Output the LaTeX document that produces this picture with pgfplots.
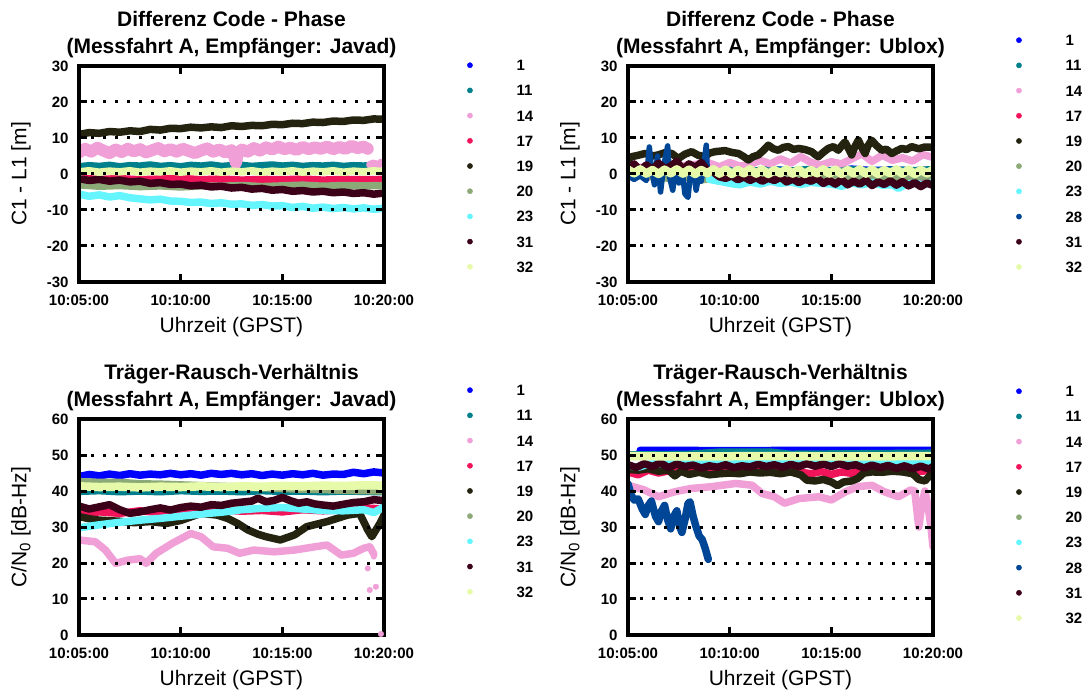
\documentclass[border=0pt]{standalone}
\usepackage{fontspec}
\setmainfont{Liberation Sans}
\usepackage{pgfplots}
\pgfplotsset{compat=1.18}

% satellite colours (MATLAB-like)
\definecolor{c1}{RGB}{0,0,255}
\definecolor{c11}{RGB}{0,128,140}
\definecolor{c14}{RGB}{240,160,215}
\definecolor{c17}{RGB}{240,20,90}
\definecolor{c19}{RGB}{35,35,15}
\definecolor{c20}{RGB}{140,170,120}
\definecolor{c23}{RGB}{100,245,255}
\definecolor{c28}{RGB}{0,70,150}
\definecolor{c31}{RGB}{60,0,25}
\definecolor{c32}{RGB}{230,250,170}

\pgfplotsset{
  panel/.style={
    scale only axis, width=305pt, height=216pt,
    xmin=5, xmax=20, xtick={5,10,15,20},
    xticklabels={10:05:00,10:10:00,10:15:00,10:20:00},
    tick align=inside, major tick length=8pt,
    every tick/.style={black, line width=3pt},
    axis line style={line width=3.5pt},
    axis on top,
    ymajorgrids,
    grid style={black, line width=3pt, dash pattern=on 3pt off 9pt},
    tick label style={font=\fontsize{15}{15}\selectfont\bfseries},
    xticklabel style={yshift=-9pt},
    yticklabel style={xshift=-7pt},
    label style={font=\fontsize{21}{21}\selectfont},
    xlabel style={at={([yshift=-45pt]axis description cs:0.5,0)}, anchor=center},
    ylabel style={at={([xshift=-58pt]axis description cs:0,0.5)}, anchor=center},
    title style={font=\fontsize{21}{27}\selectfont\bfseries, align=center,
      at={(0.5,1)}, anchor=south, yshift=2pt, inner sep=0pt},
    legend image code/.code={\fill[##1] (2.6pt,0pt) circle (2.6pt); \path (0pt,0pt) (49pt,0pt);},
    legend cell align=left,
    legend style={draw=none, fill=none, inner sep=0pt, row sep=14.2pt, column sep=0pt,
      font=\fontsize{15}{15}\selectfont\bfseries, anchor=north west,
      nodes={inner sep=0pt, text height=11pt, text depth=0pt}},
  },
  band/.style={no markers, line width=7.5pt, line join=round, line cap=round, forget plot},
}

\begin{document}
\begin{tikzpicture}
\useasboundingbox (0,0) rectangle (1087pt,693pt);

% ---------------- top left: code - phase, Javad
\begin{axis}[panel, at={(79pt,411pt)}, anchor=south west,
  ymin=-30, ymax=30, ytick={-30,-20,...,30},
  yticklabels={-30,-20,-10,0,10,20,30},
  title={Differenz Code - Phase\\(Messfahrt A, Empfänger: Javad)},
  xlabel={Uhrzeit (GPST)}, ylabel={C1 - L1 [m]},
  legend style={at={(1.272,1.03)}}]
\addlegendimage{c1}\addlegendimage{c11}\addlegendimage{c14}\addlegendimage{c17}
\addlegendimage{c19}\addlegendimage{c20}\addlegendimage{c23}\addlegendimage{c31}
\addlegendimage{c32}
\addplot[band, c11] coordinates {(5,2.0)(5.5,2.3)(6,2.1)(6.5,2.4)(7,2.0)(7.5,2.3)(8,2.2)(8.5,2.5)(9,2.1)(9.5,2.3)(10,2.0)(10.5,2.4)(11,2.2)(11.5,2.5)(12,2.1)(12.5,2.3)(13,2.4)(13.5,2.1)(14,2.3)(14.5,2.5)(15,2.2)(15.5,2.4)(16,2.1)(16.5,2.3)(17,2.2)(17.5,2.4)(18,2.1)(18.5,2.3)(19,2.2)(19.2,2.3)};
\addplot[band, c14, line width=12pt] coordinates {(5,6.0)(5.3,7.0)(5.6,6.2)(5.9,7.3)(6.2,6.5)(6.5,5.8)(6.8,6.8)(7.1,6.1)(7.4,7.0)(7.7,6.3)(8,6.9)(8.3,6.0)(8.6,6.6)(8.9,7.2)(9.2,6.3)(9.5,6.9)(9.8,6.2)(10.1,7.0)(10.4,6.4)(10.7,5.8)(11,6.5)(11.3,7.1)(11.6,6.2)(11.9,6.8)(12.2,6.0)(12.5,6.6)(12.65,4.5)(12.72,3.0)(12.8,5.5)(13,6.8)(13.3,6.2)(13.6,7.2)(13.9,6.5)(14.2,7.4)(14.5,6.8)(14.8,7.6)(15.1,6.9)(15.4,7.3)(15.7,6.7)(16,7.5)(16.3,6.9)(16.6,7.4)(16.9,7.0)(17.2,7.6)(17.5,6.9)(17.8,7.5)(18.1,7.0)(18.4,7.8)(18.7,7.2)(19,7.6)(19.2,7.0)};
\addplot[band, c14] coordinates {(19.3,2.6)(19.5,3.0)(19.7,2.4)(19.85,3.2)(20,2.8)};
\addplot[band, c17] coordinates {(5,-1.2)(6,-1.5)(7,-1.3)(8,-1.6)(9,-1.4)(10,-1.2)(11,-1.6)(12,-1.4)(13,-1.7)(14,-1.5)(15,-1.6)(16,-1.4)(17,-1.7)(18,-1.5)(19,-1.6)(20,-1.5)};
\addplot[band, c19] coordinates {(5,11.0)(5.5,11.5)(6,11.3)(6.5,11.8)(7,11.6)(7.5,12.0)(8,11.8)(8.5,12.4)(9,12.2)(9.5,12.7)(10,12.6)(10.5,13.0)(11,12.8)(11.5,13.1)(12,12.9)(12.5,13.4)(13,13.2)(13.5,13.5)(14,13.4)(14.5,13.8)(15,13.7)(15.5,14.1)(16,14.0)(16.5,14.4)(17,14.3)(17.5,14.7)(18,14.6)(18.5,15.0)(19,14.9)(19.5,15.3)(20,15.2)};
\addplot[band, c20] coordinates {(5,-3.0)(6,-3.4)(7,-3.2)(8,-3.5)(9,-3.3)(10,-3.6)(11,-3.3)(12,-3.4)(13,-3.2)(14,-3.5)(15,-3.3)(16,-3.1)(17,-3.4)(18,-3.2)(19,-3.3)(20,-3.2)};
\addplot[band, c23] coordinates {(5,-5.6)(5.5,-6.2)(6,-5.8)(6.5,-6.4)(7,-6.0)(7.5,-6.6)(8,-6.9)(8.5,-7.2)(9,-7.0)(9.5,-7.5)(10,-7.6)(10.5,-7.9)(11,-7.8)(11.5,-8.2)(12,-8.0)(12.5,-8.4)(13,-8.3)(13.5,-8.7)(14,-8.5)(14.5,-8.9)(15,-8.8)(15.5,-9.3)(16,-9.0)(16.5,-9.5)(17,-9.2)(17.5,-9.6)(18,-9.3)(18.5,-9.7)(19,-9.4)(19.5,-9.8)(20,-9.5)};
\addplot[band, c31] coordinates {(5,-1.3)(5.5,-1.8)(6,-1.5)(6.5,-2.0)(7,-1.7)(7.5,-2.2)(8,-2.0)(8.5,-2.6)(9,-2.4)(9.5,-2.9)(10,-2.8)(10.5,-3.3)(11,-3.1)(11.5,-3.6)(12,-3.4)(12.5,-3.9)(13,-3.7)(13.5,-4.2)(14,-4.0)(14.5,-4.5)(15,-4.3)(15.5,-4.8)(16,-4.6)(16.5,-5.0)(17,-4.8)(17.5,-5.2)(18,-5.0)(18.5,-5.4)(19,-5.2)(19.5,-5.6)(20,-5.3)};
\addplot[band, c32] coordinates {(5,0.6)(5.5,0.9)(6,0.5)(6.5,0.8)(7,0.6)(7.5,0.9)(8,0.5)(8.5,0.8)(9,0.6)(9.5,0.9)(10,0.5)(10.5,0.8)(11,0.6)(11.5,0.9)(12,0.5)(12.5,0.8)(13,0.6)(13.5,0.9)(14,0.5)(14.5,0.8)(15,0.6)(15.5,0.9)(16,0.5)(16.5,0.8)(17,0.6)(17.5,0.9)(18,0.5)(18.5,0.8)(19,0.6)(19.5,0.9)(20,0.6)};
\legend{1,11,14,17,19,20,23,31,32}
\end{axis}

% ---------------- top right: code - phase, Ublox
\begin{axis}[panel, at={(628pt,411pt)}, anchor=south west,
  ymin=-30, ymax=30, ytick={-30,-20,...,30},
  yticklabels={-30,-20,-10,0,10,20,30},
  title={Differenz Code - Phase\\(Messfahrt A, Empfänger: Ublox)},
  xlabel={Uhrzeit (GPST)}, ylabel={C1 - L1 [m]},
  legend style={at={(1.272,1.146)}}]
\addlegendimage{c1}\addlegendimage{c11}\addlegendimage{c14}\addlegendimage{c17}
\addlegendimage{c19}\addlegendimage{c20}\addlegendimage{c23}\addlegendimage{c28}
\addlegendimage{c31}\addlegendimage{c32}
\addplot[band, c1, line width=5pt] coordinates {(9,1.2)(10,1.5)(11,1.0)(12,1.6)(13,1.2)(14,1.4)(15,1.1)(16,1.7)(17,1.3)(18,1.5)(19,1.2)(20,1.4)};
\addplot[band, c11] coordinates {(5,0.8)(6,1.2)(7,0.6)(8,1.3)(9,0.9)(10,1.1)(11,0.7)(12,1.2)(13,0.8)(14,1.3)(15,0.9)(16,1.2)(17,0.7)(18,1.1)(19,0.9)(20,1.2)};
\addplot[band, c14] coordinates {(5,1.5)(6,2.0)(7,1.8)(8,2.5)(9,3.0)(9.5,2.0)(10,3.2)(10.5,2.2)(11,2.6)(11.5,3.8)(12,2.8)(12.5,4.2)(13,3.0)(13.5,4.8)(14,3.2)(14.5,2.5)(15,3.4)(15.5,2.8)(16,4.2)(16.5,5.6)(17,3.5)(17.5,5.2)(18,3.8)(18.5,4.5)(19,3.6)(19.5,5.4)(20,4.6)};
\addplot[band, c17] coordinates {(5,-0.5)(5.5,0.5)(6,-0.8)(6.5,0.3)(7,-0.6)(7.5,0.6)(8,-0.3)(8.5,0.4)(9,-0.8)(9.5,0.2)(10,-0.5)(10.5,0.8)(11,-0.6)(11.5,1.0)(12,-1.2)(12.5,0.3)(13,-1.5)(13.5,0.5)(14,-1.0)(14.5,0.2)(15,-1.3)(15.5,0.4)(16,-0.8)(16.5,-1.6)(17,0.3)(17.5,-1.2)(18,0.5)(18.5,-0.9)(19,0.2)(19.5,-1.0)(20,0.3)};
\addplot[band, c19] coordinates {(5,4.0)(5.18,4.8)(5.5,5.2)(5.84,5.7)(6.2,5.0)(6.49,5.3)(6.8,5.9)(7.15,5.7)(7.48,4.3)(7.8,5.5)(8.13,6.2)(8.45,5.2)(8.79,4.8)(9.0,5.8)(9.28,6.2)(9.77,6.5)(10.1,6.0)(10.43,5.7)(10.7,4.8)(10.92,3.9)(11.15,4.8)(11.41,5.3)(11.65,6.5)(11.9,8.0)(12.15,7.0)(12.39,6.6)(12.65,7.4)(12.89,7.6)(13.15,6.8)(13.38,7.1)(13.7,6.8)(14.03,6.2)(14.2,5.4)(14.36,4.8)(14.6,6.0)(14.85,7.1)(15.1,7.6)(15.34,6.6)(15.5,7.8)(15.67,8.9)(15.85,7.0)(16.0,5.3)(16.15,7.5)(16.33,9.4)(16.5,7.3)(16.66,5.7)(16.8,7.8)(16.98,9.4)(17.2,8.0)(17.48,6.6)(17.7,6.9)(17.97,5.7)(18.2,6.4)(18.46,7.1)(18.7,6.8)(18.95,7.6)(19.3,7.0)(19.6,7.5)(20,7.4)};
\addplot[band, c20] coordinates {(5,0.0)(6,-0.5)(7,-1.2)(8,-0.8)(8.5,-1.8)(9,-1.2)(9.5,-2.0)(10,-0.8)(11,-0.5)(12,-1.0)(13,-0.6)(14,-1.1)(15,-0.7)(16,-1.0)(17,-0.5)(18,-0.9)(19,-0.6)(20,-0.8)};
\addplot[band, c23] coordinates {(9,-1.5)(9.5,-2.0)(10,-2.6)(10.5,-3.0)(11,-2.2)(11.5,-2.8)(12,-2.0)(12.5,-2.6)(13,-2.2)(13.5,-2.9)(14,-2.3)(14.5,-2.6)(15,-2.8)(15.5,-3.4)(16,-2.5)(16.5,-3.0)(17,-2.4)(17.5,-3.1)(18,-3.0)(18.3,-4.0)(18.6,-3.0)(19,-2.6)(19.5,-2.9)(20,-2.5)};
\addplot[band, c28, line width=5.5pt] coordinates {(5.0,-0.5)(5.3,-1.5)(5.6,-0.5)(5.9,-1.8)(6.05,7.5)(6.15,1.5)(6.3,-3.0)(6.45,5.0)(6.6,-5.0)(6.75,2.0)(6.95,7.8)(7.05,-1.0)(7.2,-4.5)(7.35,3.0)(7.5,-2.5)(7.65,1.5)(7.8,-5.5)(7.95,-6.5)(8.05,-1.0)(8.2,2.5)(8.35,-4.5)(8.5,0.5)(8.6,-2.0)(8.75,3.5)(8.85,8.0)(8.9,0.5)};
\addplot[band, c31] coordinates {(5,1.5)(5.3,2.8)(5.6,1.0)(5.9,2.5)(6.2,1.2)(6.5,3.0)(6.8,1.5)(7.1,2.2)(7.4,3.5)(7.7,1.2)(8.0,2.8)(8.3,1.8)(8.6,3.2)(8.9,1.0)(9.2,0.5)(9.5,-0.8)(9.8,-1.2)(10.1,-0.5)(10.4,-1.6)(10.7,-0.8)(11,-1.8)(11.3,-1.0)(11.6,-2.0)(11.9,-1.2)(12.2,-1.8)(12.5,-0.9)(12.8,-2.2)(13.1,-1.4)(13.4,-2.4)(13.7,-1.5)(14,-2.0)(14.3,-1.2)(14.6,-2.6)(14.9,-1.8)(15.2,-2.8)(15.5,-1.6)(15.8,-3.0)(16.1,-2.0)(16.4,-2.8)(16.7,-1.7)(17,-3.2)(17.3,-2.2)(17.6,-2.9)(17.9,-1.9)(18.2,-3.1)(18.5,-2.1)(18.8,-3.3)(19.1,-2.4)(19.4,-3.5)(19.7,-2.5)(20,-3.2)};
\addplot[band, c32, line width=8.5pt] coordinates {(5,1.2)(5.3,0.2)(5.6,1.3)(5.9,0.1)(6.2,1.1)(6.5,0.0)(6.8,1.2)(7.1,0.2)(7.4,1.3)(7.7,0.1)(8.0,1.2)(8.3,0.0)(8.6,1.1)(8.9,0.2)(9.2,1.3)(9.5,0.1)(9.8,1.2)(10.1,0.0)(10.4,1.1)(10.7,0.2)(11.0,1.3)(11.3,0.1)(11.6,1.2)(11.9,0.0)(12.2,1.1)(12.5,0.2)(12.8,1.3)(13.1,0.1)(13.4,1.2)(13.7,0.0)(14.0,1.1)(14.3,0.2)(14.6,1.3)(14.9,0.1)(15.2,1.2)(15.5,0.0)(15.8,1.1)(16.1,0.2)(16.4,1.3)(16.7,0.1)(17.0,1.2)(17.3,0.0)(17.6,1.1)(17.9,0.2)(18.2,1.3)(18.5,0.1)(18.8,1.2)(19.1,0.0)(19.4,1.1)(19.7,0.2)(20,1.2)};
\legend{1,11,14,17,19,20,23,28,31,32}
\end{axis}

% ---------------- bottom left: C/N0, Javad
\begin{axis}[panel, at={(79pt,58pt)}, anchor=south west,
  ymin=0, ymax=60, ytick={0,10,...,60},
  yticklabels={0,10,20,30,40,50,60},
  title={Träger-Rausch-Verhältnis\\(Messfahrt A, Empfänger: Javad)},
  xlabel={Uhrzeit (GPST)}, ylabel={C/N\raisebox{-0.35ex}{\fontsize{15}{15}\selectfont 0} [dB-Hz]},
  legend style={at={(1.272,1.16)}}]
\addlegendimage{c1}\addlegendimage{c11}\addlegendimage{c14}\addlegendimage{c17}
\addlegendimage{c19}\addlegendimage{c20}\addlegendimage{c23}\addlegendimage{c31}
\addlegendimage{c32}
\addplot[band, c1] coordinates {(5,44.0)(5.5,44.6)(6,44.2)(6.5,44.7)(7,44.3)(7.5,44.8)(8,44.4)(8.5,44.7)(9,44.5)(9.5,44.9)(10,44.5)(10.5,44.8)(11,44.4)(11.5,44.9)(12,44.6)(12.5,44.9)(13,44.5)(13.5,44.8)(14,44.3)(14.5,44.7)(15,44.4)(15.5,44.8)(16,44.5)(16.5,44.9)(17,44.4)(17.5,44.7)(18,44.6)(18.5,45.2)(19,44.8)(19.5,45.3)(20,45.0)};
\addplot[band, c11] coordinates {(5,39.9)(6,40.1)(7,39.8)(8,40.0)(9,39.8)(10,40.1)(11,39.9)(12,40.0)(13,39.8)(14,40.1)(15,39.9)(16,40.0)(17,39.8)(18,40.0)(19,39.9)(20,39.8)};
\addplot[band, c14] coordinates {(5,26.4)(5.8,25.9)(6.3,23.6)(6.8,19.9)(7.4,20.8)(8.0,21.2)(8.3,19.9)(8.8,22.7)(9.6,25.5)(10.5,28.2)(11.0,27.3)(11.6,24.5)(12.3,24.1)(12.9,22.7)(13.6,23.6)(14.6,23.1)(15.6,23.6)(16.6,24.5)(17.2,25.0)(17.9,22.2)(18.5,22.7)(19.0,24.1)(19.3,24.5)(19.5,22.5)};
\addplot[only marks, mark=*, mark size=2.8pt, c14, forget plot] coordinates {(19.2,18.5)(19.3,12.5)(19.5,21.8)(19.6,13.4)(19.85,0.3)};
\addplot[band, c17] coordinates {(5,33.5)(6,34.2)(7,33.8)(8,34.5)(9,34.0)(10,34.6)(11,34.2)(12,34.8)(13,34.4)(14,34.6)(15,34.2)(16,34.8)(17,34.5)(18,34.8)(19,35.3)(20,35.0)};
\addplot[band, c19] coordinates {(5,32.9)(5.5,32.3)(6,31.9)(7,31.6)(7.7,31.2)(8.5,31.5)(9.3,31.0)(10,31.8)(11,33.8)(11.8,33.3)(12.3,32.4)(12.8,31.0)(13.3,29.2)(13.8,28.0)(14.2,27.3)(14.9,26.4)(15.6,27.8)(16.2,30.1)(17.2,31.5)(18.2,33.3)(18.8,33.8)(19.2,29.2)(19.4,27.3)(19.8,31.0)(20,33.3)};
\addplot[band, c20] coordinates {(5,42.6)(6,42.4)(7,42.4)(8,42.0)(9,41.9)(10,41.7)(11,41.5)(12,41.3)(13,41.1)(14,40.9)(15,40.7)(16,40.5)(17,40.4)(18,40.2)(19,40.1)(20,40.0)};
\addplot[band, c23] coordinates {(5,29.8)(6,30.6)(7,31.3)(8,31.9)(9,32.4)(10,33.0)(11,33.6)(12,34.1)(13,34.8)(14,35.2)(15,35.4)(16,35.0)(17,34.6)(18,34.5)(19,34.8)(19.5,34.0)(20,35.6)};
\addplot[band, c31] coordinates {(5,35.8)(5.5,35.0)(6,35.6)(6.5,36.2)(7,34.8)(7.5,33.8)(8,34.2)(8.5,34.8)(9,35.3)(9.5,34.7)(10,35.4)(10.5,35.8)(11,35.5)(11.5,36.2)(12,36.0)(12.5,36.6)(13,36.9)(13.5,37.2)(13.8,38.0)(14.2,37.0)(14.6,37.4)(15,38.2)(15.4,37.3)(15.8,36.6)(16.2,37.0)(16.6,36.4)(17,36.1)(17.5,35.8)(18,36.3)(18.5,36.8)(19,37.0)(19.5,37.6)(20,37.3)};
\addplot[band, c32, line width=8.5pt] coordinates {(5,41.3)(6,41.1)(7,41.2)(8,41.0)(9,41.2)(10,41.1)(11,41.3)(12,41.1)(13,41.3)(14,41.2)(15,41.4)(16,41.3)(17,41.5)(18,41.4)(19,41.6)(20,41.5)};
\legend{1,11,14,17,19,20,23,31,32}
\end{axis}

% ---------------- bottom right: C/N0, Ublox
\begin{axis}[panel, at={(628pt,58pt)}, anchor=south west,
  ymin=0, ymax=60, ytick={0,10,...,60},
  yticklabels={0,10,20,30,40,50,60},
  title={Träger-Rausch-Verhältnis\\(Messfahrt A, Empfänger: Ublox)},
  xlabel={Uhrzeit (GPST)}, ylabel={C/N\raisebox{-0.35ex}{\fontsize{15}{15}\selectfont 0} [dB-Hz]},
  legend style={at={(1.272,1.155)}}]
\addlegendimage{c1}\addlegendimage{c11}\addlegendimage{c14}\addlegendimage{c17}
\addlegendimage{c19}\addlegendimage{c20}\addlegendimage{c23}\addlegendimage{c28}
\addlegendimage{c31}\addlegendimage{c32}
\addplot[band, c1] coordinates {(5.6,51.3)(7,51.3)(10,51.2)(14,51.3)(20,51.3)};
\addplot[band, c11] coordinates {(5,50.0)(8,50.2)(9.5,50.8)(12,50.8)(13,50.2)(20,50.5)};
\addplot[band, c14] coordinates {(5,41.6)(5.8,40.3)(6.5,38.4)(7.3,39.8)(8.1,40.7)(9.1,41.2)(10.3,42.1)(11.1,41.6)(11.6,39.3)(12.2,38.4)(12.7,36.6)(13.4,37.9)(14.4,38.4)(15.0,37.5)(15.7,39.8)(16.3,41.2)(17.0,41.6)(17.6,39.8)(18.3,38.4)(18.9,40.3)(19.1,40.0)(19.3,30.0)(19.45,36.0)(19.6,40.0)(19.75,36.0)(19.9,30.0)(20,24.5)};
\addplot[band, c17] coordinates {(5,45.3)(5.5,44.5)(6,45.8)(6.5,45.0)(7,45.6)(8,45.8)(9,46.0)(10,46.2)(11,46.0)(12,46.3)(13,46.0)(13.5,45.2)(14,44.8)(14.5,45.4)(15,44.6)(15.5,45.3)(16,44.9)(16.5,45.8)(17,46.0)(18,46.2)(18.5,45.8)(19,45.2)(19.5,45.5)(20,46.0)};
\addplot[band, c19] coordinates {(5,46.0)(5.5,45.8)(6,46.2)(6.5,45.5)(7,45.8)(7.3,44.2)(7.6,45.5)(8,44.6)(8.5,45.2)(9,44.5)(9.5,44.8)(10,45.0)(10.5,44.8)(11,45.3)(11.5,45.0)(12,45.2)(12.5,44.8)(13,45.3)(13.5,44.5)(13.8,43.0)(14.2,42.8)(14.6,43.2)(15,42.5)(15.3,41.5)(15.6,42.5)(16,42.8)(16.3,43.5)(16.6,45.0)(17,45.3)(17.5,45.2)(18,45.5)(18.5,45.3)(19,44.8)(19.3,43.2)(19.6,42.8)(19.8,44.0)(20,45.5)};
\addplot[band, c20] coordinates {(5,49.8)(10,49.7)(15,49.6)(19,49.6)(19.3,48.4)(19.6,49.5)(20,49.5)};
\addplot[band, c23] coordinates {(5,47.0)(5.5,46.6)(6,47.4)(7,47.8)(8,47.6)(10,47.8)(12,48.0)(14,47.8)(15,48.3)(16,47.8)(18,48.0)(20,48.0)};
\addplot[band, c28] coordinates {(5.0,42.0)(5.15,39.0)(5.3,37.5)(5.5,37.8)(5.7,35.0)(5.85,33.5)(6.0,36.0)(6.15,37.2)(6.35,33.0)(6.5,31.5)(6.65,34.5)(6.8,36.0)(6.95,32.0)(7.1,29.5)(7.25,33.0)(7.4,34.5)(7.55,30.0)(7.65,28.5)(7.8,32.0)(7.95,36.5)(8.05,37.0)(8.2,33.0)(8.35,30.0)(8.5,27.5)(8.65,26.5)(8.8,24.0)(8.95,21.0)};
\addplot[band, c31] coordinates {(5,47.3)(5.4,46.5)(5.8,47.6)(6.2,46.8)(6.6,47.8)(7,46.5)(7.4,47.5)(7.8,46.8)(8.2,47.2)(8.6,46.4)(9,47.0)(9.4,46.6)(9.8,47.3)(10.2,46.5)(10.6,47.0)(11,46.7)(11.4,47.4)(11.8,46.8)(12.2,47.3)(12.6,46.6)(13,47.4)(13.4,46.8)(13.8,47.6)(14.2,46.9)(14.6,47.5)(15,46.8)(15.4,47.6)(15.8,46.9)(16.2,47.3)(16.6,46.4)(17,47.2)(17.4,46.5)(17.8,47.1)(18.2,46.3)(18.6,47.0)(19,46.2)(19.4,46.9)(19.8,46.1)(20,46.8)};
\addplot[band, c32, line width=8.5pt] coordinates {(5,49.7)(8,49.6)(12,49.7)(16,49.6)(20,49.7)};
\legend{1,11,14,17,19,20,23,28,31,32}
\end{axis}
\end{tikzpicture}
\end{document}
